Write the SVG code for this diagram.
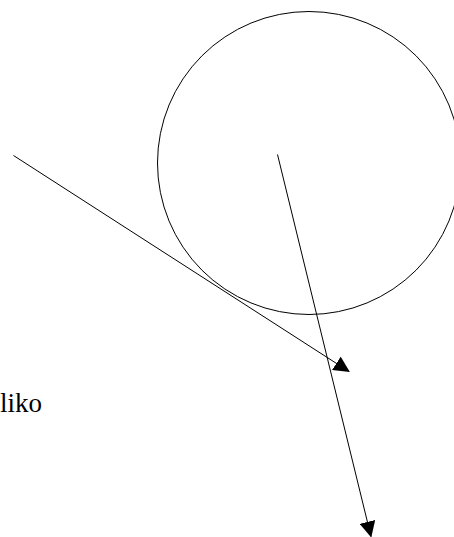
<svg xmlns="http://www.w3.org/2000/svg" width="454" height="537" viewBox="0 0 454 537">
<style>
.ln{stroke:#000;stroke-width:1;fill:none}
.lbl{font-family:"Liberation Serif",serif;font-size:27px;fill:#000}
</style>
<defs>
<marker id="ah" markerWidth="16" markerHeight="16" refX="15" refY="8" orient="auto" markerUnits="userSpaceOnUse">
<path d="M0,0 L16,8 L0,16 Z" fill="#000"/>
</marker>
</defs>
<g id="circle"><circle class="ln" cx="309" cy="163" r="151.5"/></g>
<g id="label"><text class="lbl" x="0" y="411.5">liko</text></g>
<g id="connectors">
<line class="ln" x1="13.5" y1="155.5" x2="349" y2="371.5" marker-end="url(#ah)"/>
<line class="ln" x1="277.5" y1="154.5" x2="371" y2="536.5" marker-end="url(#ah)"/>
</g>
</svg>
